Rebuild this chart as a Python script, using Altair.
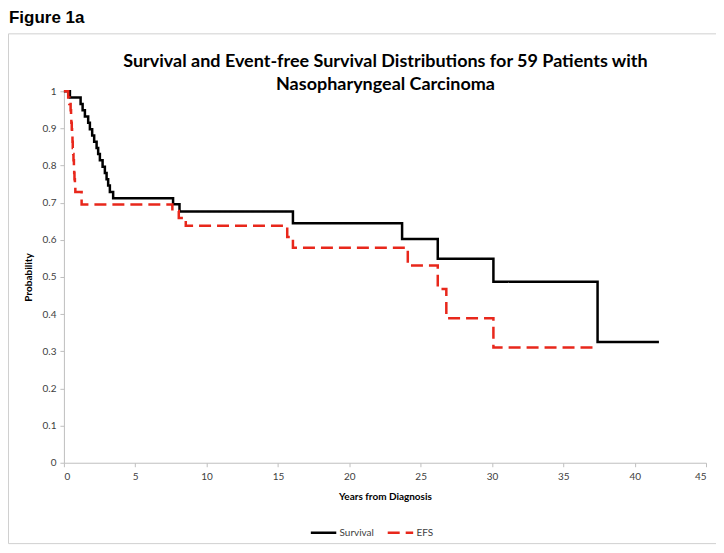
import altair as alt
import pandas as pd

# Survival (black, solid)
surv_years = [0, 0.42, 1.17, 1.31, 1.47, 1.70, 1.82, 1.98, 2.12, 2.29, 2.40, 2.52, 2.71,
              2.87, 2.99, 3.10, 3.22, 3.45, 7.65, 8.10, 16.05, 23.70, 26.20, 30.10, 37.40, 41.70]
surv_prob = [1.0, 0.983, 0.966, 0.949, 0.932, 0.915, 0.898, 0.881, 0.864, 0.847, 0.831, 0.814, 0.797,
             0.780, 0.763, 0.746, 0.729, 0.712, 0.696, 0.676, 0.645, 0.602, 0.549, 0.487, 0.325, 0.325]

# Event-free survival (red, dashed)
efs_years = [0, 0.30, 0.38, 0.47, 0.50, 0.52, 0.55, 0.57, 0.60, 0.62, 0.65, 0.67, 0.70, 0.72,
             0.74, 0.77, 0.80, 1.24, 7.60, 8.05, 8.54, 15.65, 16.05, 24.10, 26.20, 26.80, 30.10, 37.20]
efs_prob = [1.0, 0.983, 0.966, 0.949, 0.932, 0.915, 0.898, 0.881, 0.864, 0.847, 0.831, 0.814, 0.797,
            0.780, 0.763, 0.746, 0.729, 0.695, 0.678, 0.659, 0.638, 0.608, 0.579, 0.531, 0.468,
            0.389, 0.310, 0.310]

series_names = ["Survival", "EFS"]
series_colors = ["#000000", "#e8271b"]
x_ticks = list(range(0, 50, 5))
y_ticks = [round(i * 0.1, 1) for i in range(11)]

title_lines = ["Survival and Event-free Survival Distributions for 59 Patients with",
               "Nasopharyngeal Carcinoma"]
figure_label = "Figure 1a"

df = pd.concat([
    pd.DataFrame({"years": surv_years, "prob": surv_prob, "series": "Survival", "order": range(len(surv_years))}),
    pd.DataFrame({"years": efs_years, "prob": efs_prob, "series": "EFS", "order": range(len(efs_years))}),
])

W, H = 643, 372
PAD_L, PAD_T = 56, 83

lines = alt.Chart(df).mark_line(interpolate="step-after", strokeWidth=2.5, clip=False).encode(
    x=alt.X("years:Q", scale=alt.Scale(domain=[0, 45], nice=False),
            axis=alt.Axis(values=x_ticks, title="Years from Diagnosis", titlePadding=10,
                          labelPadding=5, tickSize=4, grid=False)),
    y=alt.Y("prob:Q", scale=alt.Scale(domain=[0, 1], nice=False),
            axis=alt.Axis(values=y_ticks, format="~g", title="Probability", titlePadding=9,
                          labelPadding=4, tickSize=4, grid=False)),
    color=alt.Color("series:N", scale=alt.Scale(domain=series_names, range=series_colors),
                    legend=alt.Legend(title=None, orient="none", legendX=246, legendY=428,
                                      direction="horizontal", symbolType="stroke",
                                      symbolStrokeWidth=2.5, symbolSize=650, labelFontSize=10,
                                      labelFont="Lato", labelColor="#404040", columnPadding=8,
                                      labelOffset=2)),
    strokeDash=alt.StrokeDash("series:N", scale=alt.Scale(domain=series_names, range=[[1, 0], [12, 6]]),
                              legend=None),
    order="order:Q",
    detail="series:N",
)

frame = alt.Chart(pd.DataFrame({"k": [0]})).mark_rect(fill=None, stroke="#d0d0d0", strokeWidth=1).encode(
    x=alt.value(-55.5), x2=alt.value(657.5), y=alt.value(-57.5), y2=alt.value(453)
)

fig_text = alt.Chart(pd.DataFrame({"t": [figure_label]})).mark_text(
    align="left", baseline="alphabetic", font="Liberation Sans", fontWeight="bold", fontSize=17, color="#000000"
).encode(text="t:N", x=alt.value(-55), y=alt.value(-68))

title_df = pd.DataFrame({"t": title_lines, "line": [0, 1]})
title_text = alt.Chart(title_df).mark_text(
    align="center", baseline="middle", font="Lato", fontWeight="bold", fontSize=18, color="#000000"
).encode(
    text="t:N",
    x=alt.value(322),
    y=alt.Y("line:Q", scale=alt.Scale(domain=[0, 1], range=[-29, -6]), axis=None),
)

chart = alt.layer(frame, fig_text, title_text, lines).resolve_scale(y="independent").properties(
    width=W, height=H,
    padding={"left": PAD_L, "top": PAD_T, "right": 10, "bottom": 82},
    autosize=alt.AutoSizeParams(type="none"),
).configure_view(stroke=None).configure_axis(
    domainColor="#bfbfbf", tickColor="#bfbfbf", labelColor="#404040", labelFont="Lato",
    labelFontSize=10, titleFont="Lato", titleFontSize=10, titleFontWeight="bold", titleColor="#000000"
)

chart.save("out.html", embed_options={"renderer": "svg", "actions": False})
